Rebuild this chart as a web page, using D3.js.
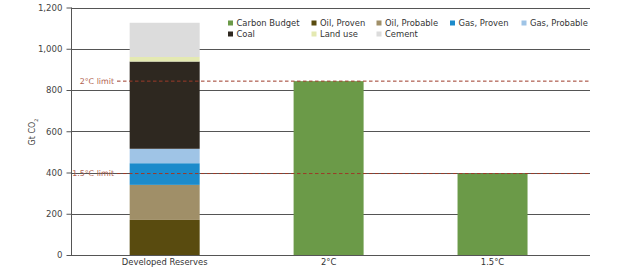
<!DOCTYPE html>
<html><head><meta charset="utf-8">
<script src="https://cdn.jsdelivr.net/npm/d3@7"></script>
<style>
body{margin:0;background:#fff;}
text{font-family:"DejaVu Sans",sans-serif;}
</style></head>
<body><svg id="c" width="620" height="271"></svg>
<script>
const categories = ["Developed Reserves", "2°C", "1.5°C"];
const seriesNames = ["Carbon Budget","Oil, Proven","Oil, Probable","Gas, Proven","Gas, Probable","Coal","Land use","Cement"];
const seriesColors = ["#6b9a48","#594b0f","#a08f68","#1c8bcb","#9fc4e6","#2e2820","#e4e9b2","#dcdcdc"];
// values per series, aligned with categories
const carbonBudget = [0, 843, 395];
const oilProven    = [170, 0, 0];
const oilProbable  = [170, 0, 0];
const gasProven    = [105, 0, 0];
const gasProbable  = [70, 0, 0];
const coal         = [423, 0, 0];
const landUse      = [22, 0, 0];
const cement       = [166, 0, 0];
const yTicks = [0, 200, 400, 600, 800, 1000, 1200];
const limits = [{label:"2°C limit", value:843}, {label:"1.5°C limit", value:395}];

const seriesValues = [carbonBudget, oilProven, oilProbable, gasProven, gasProbable, coal, landUse, cement];

(function(){
const svg = d3.select("#c");
const mL = 71, mR = 590, mT = 7.5, mB = 255;
const y = d3.scaleLinear().domain([0,1200]).range([mB, mT]);
const x = d3.scaleBand().domain(categories).range([82.7, 574.5]).paddingInner(0.573).paddingOuter(0.2865);

// gridlines
svg.append("g").selectAll("line").data(yTicks).join("line")
  .attr("x1", mL).attr("x2", mR)
  .attr("y1", d => Math.round(y(d))+0.5).attr("y2", d => Math.round(y(d))+0.5)
  .attr("stroke", "#555").attr("stroke-width", 1);

// stacked bars
const rows = categories.map((c,i) => {
  const o = {cat:c};
  seriesNames.forEach((s,j) => o[s] = seriesValues[j][i]);
  return o;
});
const stack = d3.stack().keys(seriesNames)(rows);
svg.append("g").selectAll("g").data(stack).join("g")
  .attr("fill", (d,i) => seriesColors[i])
  .selectAll("rect").data(d => d.filter(p => p[1]-p[0] > 0)).join("rect")
  .attr("x", d => x(d.data.cat)).attr("width", x.bandwidth())
  .attr("y", d => y(d[1])).attr("height", d => y(d[0]) - y(d[1]));

// y axis
const yAxis = d3.axisLeft(y).tickValues(yTicks).tickFormat(d3.format(",")).tickSize(5).tickPadding(4);
const ga = svg.append("g").attr("transform", `translate(${mL+0.5},0)`).call(yAxis);
ga.select(".domain").attr("stroke", "#555").attr("d", `M0,${mT}V${mB}`);
ga.selectAll(".tick line").attr("stroke", "#555");
ga.selectAll(".tick text").attr("fill", "#444").style("font-size", "8.6px");

// x axis labels
const xAxis = d3.axisBottom(x).tickSize(0).tickPadding(4);
const gx = svg.append("g").attr("transform", `translate(0,${mB})`).call(xAxis);
gx.select(".domain").remove();
gx.selectAll(".tick text").attr("fill", "#333").style("font-size", "8.4px");

// limit lines
const lg = svg.append("g");
lg.selectAll("line").data(limits).join("line")
  .attr("x1", 117).attr("x2", mR)
  .attr("y1", d => y(d.value)).attr("y2", d => y(d.value))
  .attr("stroke", "#9c3a28").attr("stroke-width", 1).attr("stroke-dasharray", "3.5,2.5");
lg.selectAll("text").data(limits).join("text")
  .attr("x", 114).attr("y", d => y(d.value)).attr("dy", "0.35em")
  .attr("text-anchor", "end").attr("fill", "#b0604e").style("font-size", "7.9px")
  .text(d => d.label);

// y label
svg.append("text").attr("transform", "translate(35,132) rotate(-90)")
  .attr("text-anchor", "middle").attr("fill", "#444").style("font-size", "8px")
  .text("Gt CO").append("tspan").attr("baseline-shift", "sub").style("font-size", "5px").text("2");

// legend
const legendPos = [[228,23],[311.5,23],[376.5,23],[450,23],[521.5,23],[228,34],[311.5,34],[376.5,34]];
const leg = svg.append("g").selectAll("g").data(seriesNames).join("g")
  .attr("transform", (d,i) => `translate(${legendPos[i][0]},${legendPos[i][1]})`);
leg.append("rect").attr("x", 0).attr("y", -2.5).attr("width", 5).attr("height", 5)
  .attr("fill", (d,i) => seriesColors[i]);
leg.append("text").attr("x", 8.5).attr("dy", "0.35em").attr("fill", "#333")
  .style("font-size", "8.4px").text(d => d);
})();
</script></body></html>
